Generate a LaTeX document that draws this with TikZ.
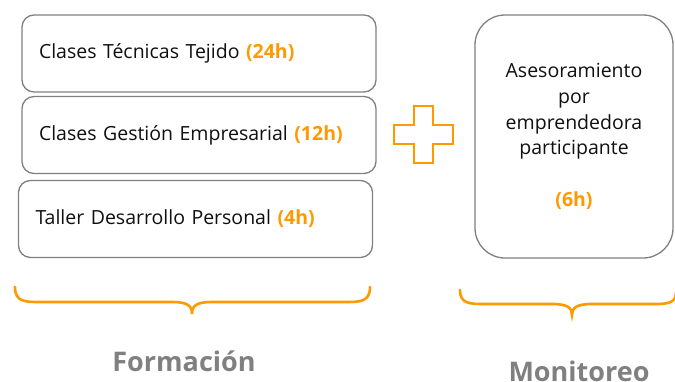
\documentclass[tikz,border=0pt]{standalone}
\usepackage{fontspec}
\setmainfont{Open Sans}
\usepackage{tikz}
\usetikzlibrary{positioning, calc}

\begin{document}
\begin{tikzpicture}[x=1pt, y=-1pt]
            % Colores
            \definecolor{naranja}{RGB}{255,153,0}
            \definecolor{borde}{RGB}{128,128,128}
            \definecolor{texto}{RGB}{15,15,15}
            \definecolor{etiqueta}{RGB}{128,128,128}

            \tikzset{
                caja/.style={draw=borde, line width=1.3pt, rounded corners=12pt, minimum width=354pt, minimum height=77pt, text width=320pt, inner xsep=17pt, align=left, text=texto, font=\fontsize{19.5}{22}\selectfont},
                llave/.style={draw=naranja, line width=2.6pt, line cap=round},
                titulo/.style={text=etiqueta, font=\fontsize{27}{32}\selectfont\bfseries}
            }
            \newcommand{\hrs}[1]{\textcolor{naranja}{\textbf{#1}}}

            \useasboundingbox (0,0) rectangle (675,381);

            % Formacion
            \node[caja] (tejido) at (199,53.5) {Clases Técnicas Tejido \hrs{(24h)}};
            \node[caja] (gestion) at (199,135) {Clases Gestión Empresarial \hrs{(12h)}};
            \node[caja] (taller) at (195.5,219) {Taller Desarrollo Personal \hrs{(4h)}};

            % Monitoreo
            \node[draw=borde, line width=1.3pt, rounded corners=30pt, minimum width=198pt, minimum height=243pt, align=center, text=texto, font=\fontsize{19.5}{25.7}\selectfont] (asesor) at (574,136.5)
                {Asesoramiento\\por\\emprendedora\\participante\\[25.7pt]\hrs{(6h)}};

            % Signo mas
            \draw[draw=naranja, line width=1.6pt] (414,106) -- (433,106) -- (433,125) -- (453,125) -- (453,144) -- (433,144) -- (433,163) -- (414,163) -- (414,144) -- (394,144) -- (394,125) -- (414,125) -- cycle;

            % Llaves
            \coordinate (fa) at (15,287);
            \coordinate (fp) at (192,314);
            \coordinate (fb) at (370,287);
            \draw[llave] (fa) .. controls (15,302) and (25,302) .. (40,302) -- (172,302)
                .. controls (188,302) and (192,306) .. (fp)
                .. controls (192,306) and (196,302) .. (212,302) -- (345,302)
                .. controls (360,302) and (370,302) .. (fb);

            \coordinate (ma) at (460,290);
            \coordinate (mp) at (572,315);
            \coordinate (mb) at (676,292);
            \draw[llave] (ma) .. controls (460,304) and (470,304) .. (485,304) -- (552,304)
                .. controls (568,304) and (572,308) .. (mp)
                .. controls (572,308) and (576,304) .. (592,304) -- (655,304)
                .. controls (670,304) and (676,302) .. (mb);

            % Titulos
            \node[titulo, below=33pt of fp, xshift=-8pt] (formacion) {Formación};
            \node[titulo, below=42pt of mp, xshift=7pt] (monitoreo) {Monitoreo};

\end{tikzpicture}
\end{document}
